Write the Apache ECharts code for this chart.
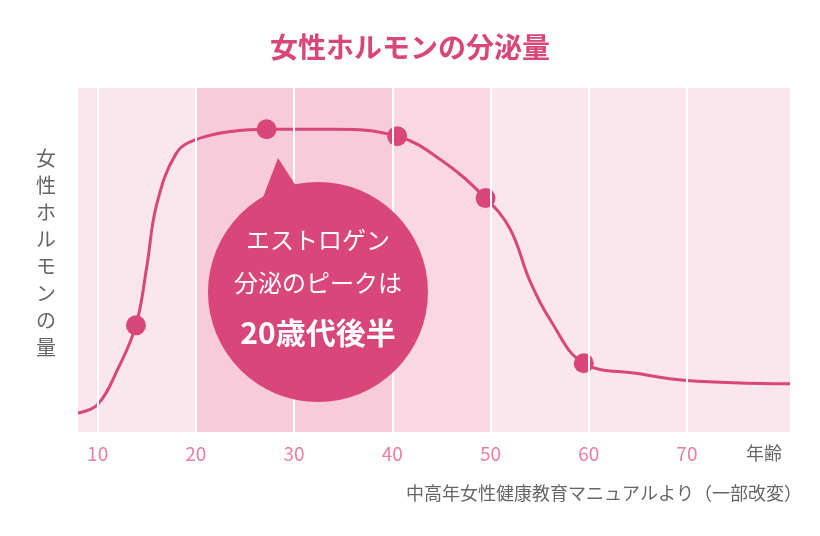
<!DOCTYPE html>
<html lang="ja">
<head>
<meta charset="UTF-8">
<title>女性ホルモンの分泌量</title>
<script src="https://cdn.jsdelivr.net/npm/echarts@6/dist/echarts.min.js"></script>
</head>
<body style="margin:0;background:#fff">
<div id="main" style="width:820px;height:536px"></div>
<script>
// 年齢と分泌量（相対値）
var ages = [8, 10, 12, 13.9, 15, 16, 18, 20, 24, 27.2, 34, 40.5, 45, 49.5, 52, 54, 56, 59.5, 65, 70, 80.5];
var levels = [5.5, 8, 18, 31, 48, 66, 81, 85, 87.5, 88, 88, 86, 79, 68, 59, 44, 33, 20, 17, 15, 14];
var dotAges = [13.9, 27.2, 40.5, 49.5, 59.5];
var dotLevels = [31, 88, 86, 68, 20];
var tickAges = [10, 20, 30, 40, 50, 60, 70];

var pink = '#d9467a';
var chart = echarts.init(document.getElementById('main'));
var font = '"Noto Sans CJK JP", sans-serif';

var option = {
    backgroundColor: '#fff',
    textStyle: {fontFamily: font},
    title: {
        text: '女性ホルモンの分泌量', left: 'center', top: 28,
        textStyle: {color: pink, fontSize: 28, fontWeight: 'bold', fontFamily: font}
    },
    grid: {left: 78, right: 30, top: 88, bottom: 104, show: true, backgroundColor: '#fce6ed', borderWidth: 0},
    xAxis: {
        type: 'value', min: 8, max: 80.5,
        axisLine: {show: false}, axisTick: {show: false}, splitLine: {show: false},
        axisLabel: {customValues: tickAges, color: '#ea7fa2', fontSize: 19, margin: 12}
    },
    yAxis: {type: 'value', min: 0, max: 100, show: false},
    graphic: [
        {type: 'text', left: 36, top: 145, style: {text: '女\n性\nホ\nル\nモ\nン\nの\n量', fill: '#666', font: '20px ' + font, lineHeight: 27}},
        {type: 'text', left: 746, top: 444, style: {text: '年齢', fill: '#666', font: '18px ' + font}},
        {type: 'text', right: 18, top: 484, style: {text: '中高年女性健康教育マニュアルより（一部改変）', fill: '#666', font: '18px ' + font}},
        {type: 'group', z: 100, children: [
            {type: 'polygon', z: 100, shape: {points: [[278, 158], [262, 200], [300, 192]]}, style: {fill: pink}},
            {type: 'circle', z: 100, shape: {cx: 318, cy: 292, r: 110}, style: {fill: pink}},
            {type: 'text', z: 101, x: 318, y: 240, style: {text: 'エストロゲン', fill: '#fff', font: '24px ' + font, align: 'center', verticalAlign: 'middle'}},
            {type: 'text', z: 101, x: 318, y: 283, style: {text: '分泌のピークは', fill: '#fff', font: '24px ' + font, align: 'center', verticalAlign: 'middle'}},
            {type: 'text', z: 101, x: 318, y: 333, style: {text: '20歳代後半', fill: '#fff', font: 'bold 30px ' + font, align: 'center', verticalAlign: 'middle'}}
        ]}
    ],
    series: [
        {
            type: 'line', smooth: 0.4, symbol: 'none', z: 3,
            data: ages.map(function (a, i) { return [a, levels[i]]; }),
            lineStyle: {color: pink, width: 3},
            markArea: {
                silent: true,
                data: [
                    [{xAxis: 20, itemStyle: {color: '#f8cbda'}}, {xAxis: 40}],
                    [{xAxis: 40, itemStyle: {color: '#fad8e3'}}, {xAxis: 50}]
                ]
            },
            markLine: {
                silent: true, symbol: 'none', label: {show: false},
                lineStyle: {color: '#fff', width: 2, type: 'solid'},
                data: tickAges.map(function (t) { return {xAxis: t}; })
            }
        },
        {
            type: 'scatter', symbolSize: 20, z: 4,
            data: dotAges.map(function (a, i) { return [a, dotLevels[i]]; }),
            itemStyle: {color: pink, opacity: 1}
        }
    ]
};
chart.setOption(option);
</script>
</body>
</html>
